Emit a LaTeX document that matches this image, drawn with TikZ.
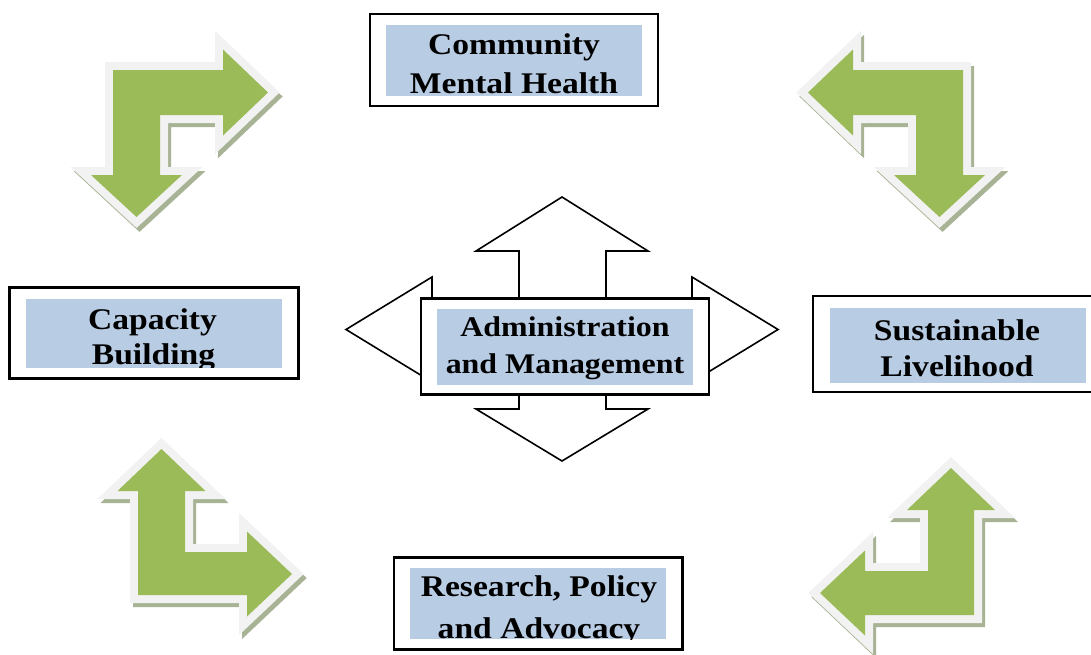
\documentclass[tikz,border=0pt]{standalone}
\usepackage{fontspec}
\setmainfont{Liberation Serif}[FakeStretch=1.12]
\definecolor{leafgreen}{HTML}{9BBB59}
\definecolor{rimgrey}{HTML}{F2F2F2}
\definecolor{shadegreen}{HTML}{A7B394}
\definecolor{paleblue}{HTML}{B8CCE4}

\tikzset{
  frame/.style={draw=black, line width=2.5pt, fill=white, inner sep=0pt},
  panel/.style={fill=paleblue, inner sep=0pt},
  caption/.style={anchor=base, inner sep=0pt, font=\fontsize{30}{36}\selectfont\bfseries},
  hubcaption/.style={anchor=base, inner sep=0pt, font=\fontsize{28.5}{34}\selectfont\bfseries},
  hubarrow/.style={draw=black, line width=1.6pt, fill=white, line join=miter},
}

% bent green arrow: shadow, light rim, green body
\newcommand\bentarrow[1]{%
  \filldraw[shadegreen, line width=16pt, line join=miter, shift={(3,4)}] #1 -- cycle;
  \draw[rimgrey, line width=16pt, line join=miter] #1 -- cycle;
  \fill[leafgreen] #1 -- cycle;
}

\begin{document}
\begin{tikzpicture}[x=1pt, y=-1pt]
\useasboundingbox (0,0) rectangle (1091,654);
\fill[white] (0,0) rectangle (1091,654);

% corner arrows
\bentarrow{(113,70) -- (223,70) -- (223,49.5) -- (268,92.5) -- (223,135.5) -- (223,115) -- (160,115) -- (160,175) -- (182,175) -- (136.5,217) -- (91,175) -- (113,175)}
\bentarrow{(963,70) -- (853,70) -- (853,49.5) -- (808,92.5) -- (853,135.5) -- (853,115) -- (916,115) -- (916,175) -- (894,175) -- (939.5,217) -- (985,175) -- (963,175)}
\bentarrow{(161.5,449) -- (205.5,491) -- (185,491) -- (185,552) -- (247,552) -- (247,531.5) -- (292,574) -- (247,616.5) -- (247,595) -- (138,595) -- (138,491) -- (117.5,491)}
\bentarrow{(951,468) -- (995,510) -- (974,510) -- (974,615) -- (865,615) -- (865,635.5) -- (820,593) -- (865,550.5) -- (865,571) -- (928,571) -- (928,510) -- (907,510)}

% four-way arrow behind the hub
\draw[hubarrow] (562,197) -- (648,251) -- (606,251) -- (606,305) -- (692,305) -- (692,277)
  -- (778,329.5) -- (692,382) -- (692,355) -- (606,355) -- (606,409) -- (648,409)
  -- (562,461) -- (476,409) -- (519,409) -- (519,355) -- (432,355) -- (432,382)
  -- (346,329.5) -- (432,277) -- (432,305) -- (519,305) -- (519,251) -- (476,251) -- cycle;

% hub box
\node[frame, minimum width=288pt, minimum height=96pt] (hub) at (565,346.7) {};
\node[panel, minimum width=256pt, minimum height=75.7pt] (hubpanel) at (565,347) {};
\begin{scope}
  \clip (hubpanel.south west) rectangle (hubpanel.north east);
  \node[hubcaption] (hubA) at (565,336.7) {Administration};
  \node[hubcaption] (hubB) at (565,373.3) {and Management};
\end{scope}

% Community Mental Health
\node[frame, minimum width=288pt, minimum height=92pt] (cmh) at (514,60) {};
\node[panel, minimum width=256pt, minimum height=71pt] (cmhpanel) at (514,60.5) {};
\begin{scope}
  \clip (cmhpanel.south west) rectangle (cmhpanel.north east);
  \node[caption] (cmhA) at (514,54) {Community};
  \node[caption] (cmhB) at (514,93) {Mental Health};
\end{scope}

% Capacity Building
\node[frame, minimum width=289pt, minimum height=91pt] (cap) at (154,333) {};
\node[panel, minimum width=256pt, minimum height=69pt] (cappanel) at (154,333) {};
\begin{scope}
  \clip (cappanel.south west) rectangle (cappanel.north east);
  \node[caption] (capA) at (152.5,329) {Capacity};
  \node[caption] (capB) at (153.5,364) {Building};
\end{scope}

% Sustainable Livelihood
\node[frame, minimum width=288pt, minimum height=96pt] (sus) at (957,344) {};
\node[panel, minimum width=256pt, minimum height=75pt] (suspanel) at (958,345) {};
\begin{scope}
  \clip (suspanel.south west) rectangle (suspanel.north east);
  \node[caption] (susA) at (957,340) {Sustainable};
  \node[caption] (susB) at (957,376) {Livelihood};
\end{scope}

% Research, Policy and Advocacy
\node[frame, minimum width=288.5pt, minimum height=92pt] (rpa) at (538.3,603.3) {};
\node[panel, minimum width=256pt, minimum height=71pt] (rpapanel) at (538,603.8) {};
\begin{scope}
  \clip (rpapanel.south west) rectangle (rpapanel.north east);
  \node[caption] (rpaA) at (539,596) {Research, Policy};
  \node[caption] (rpaB) at (539,638) {and Advocacy};
\end{scope}
\end{tikzpicture}
\end{document}
